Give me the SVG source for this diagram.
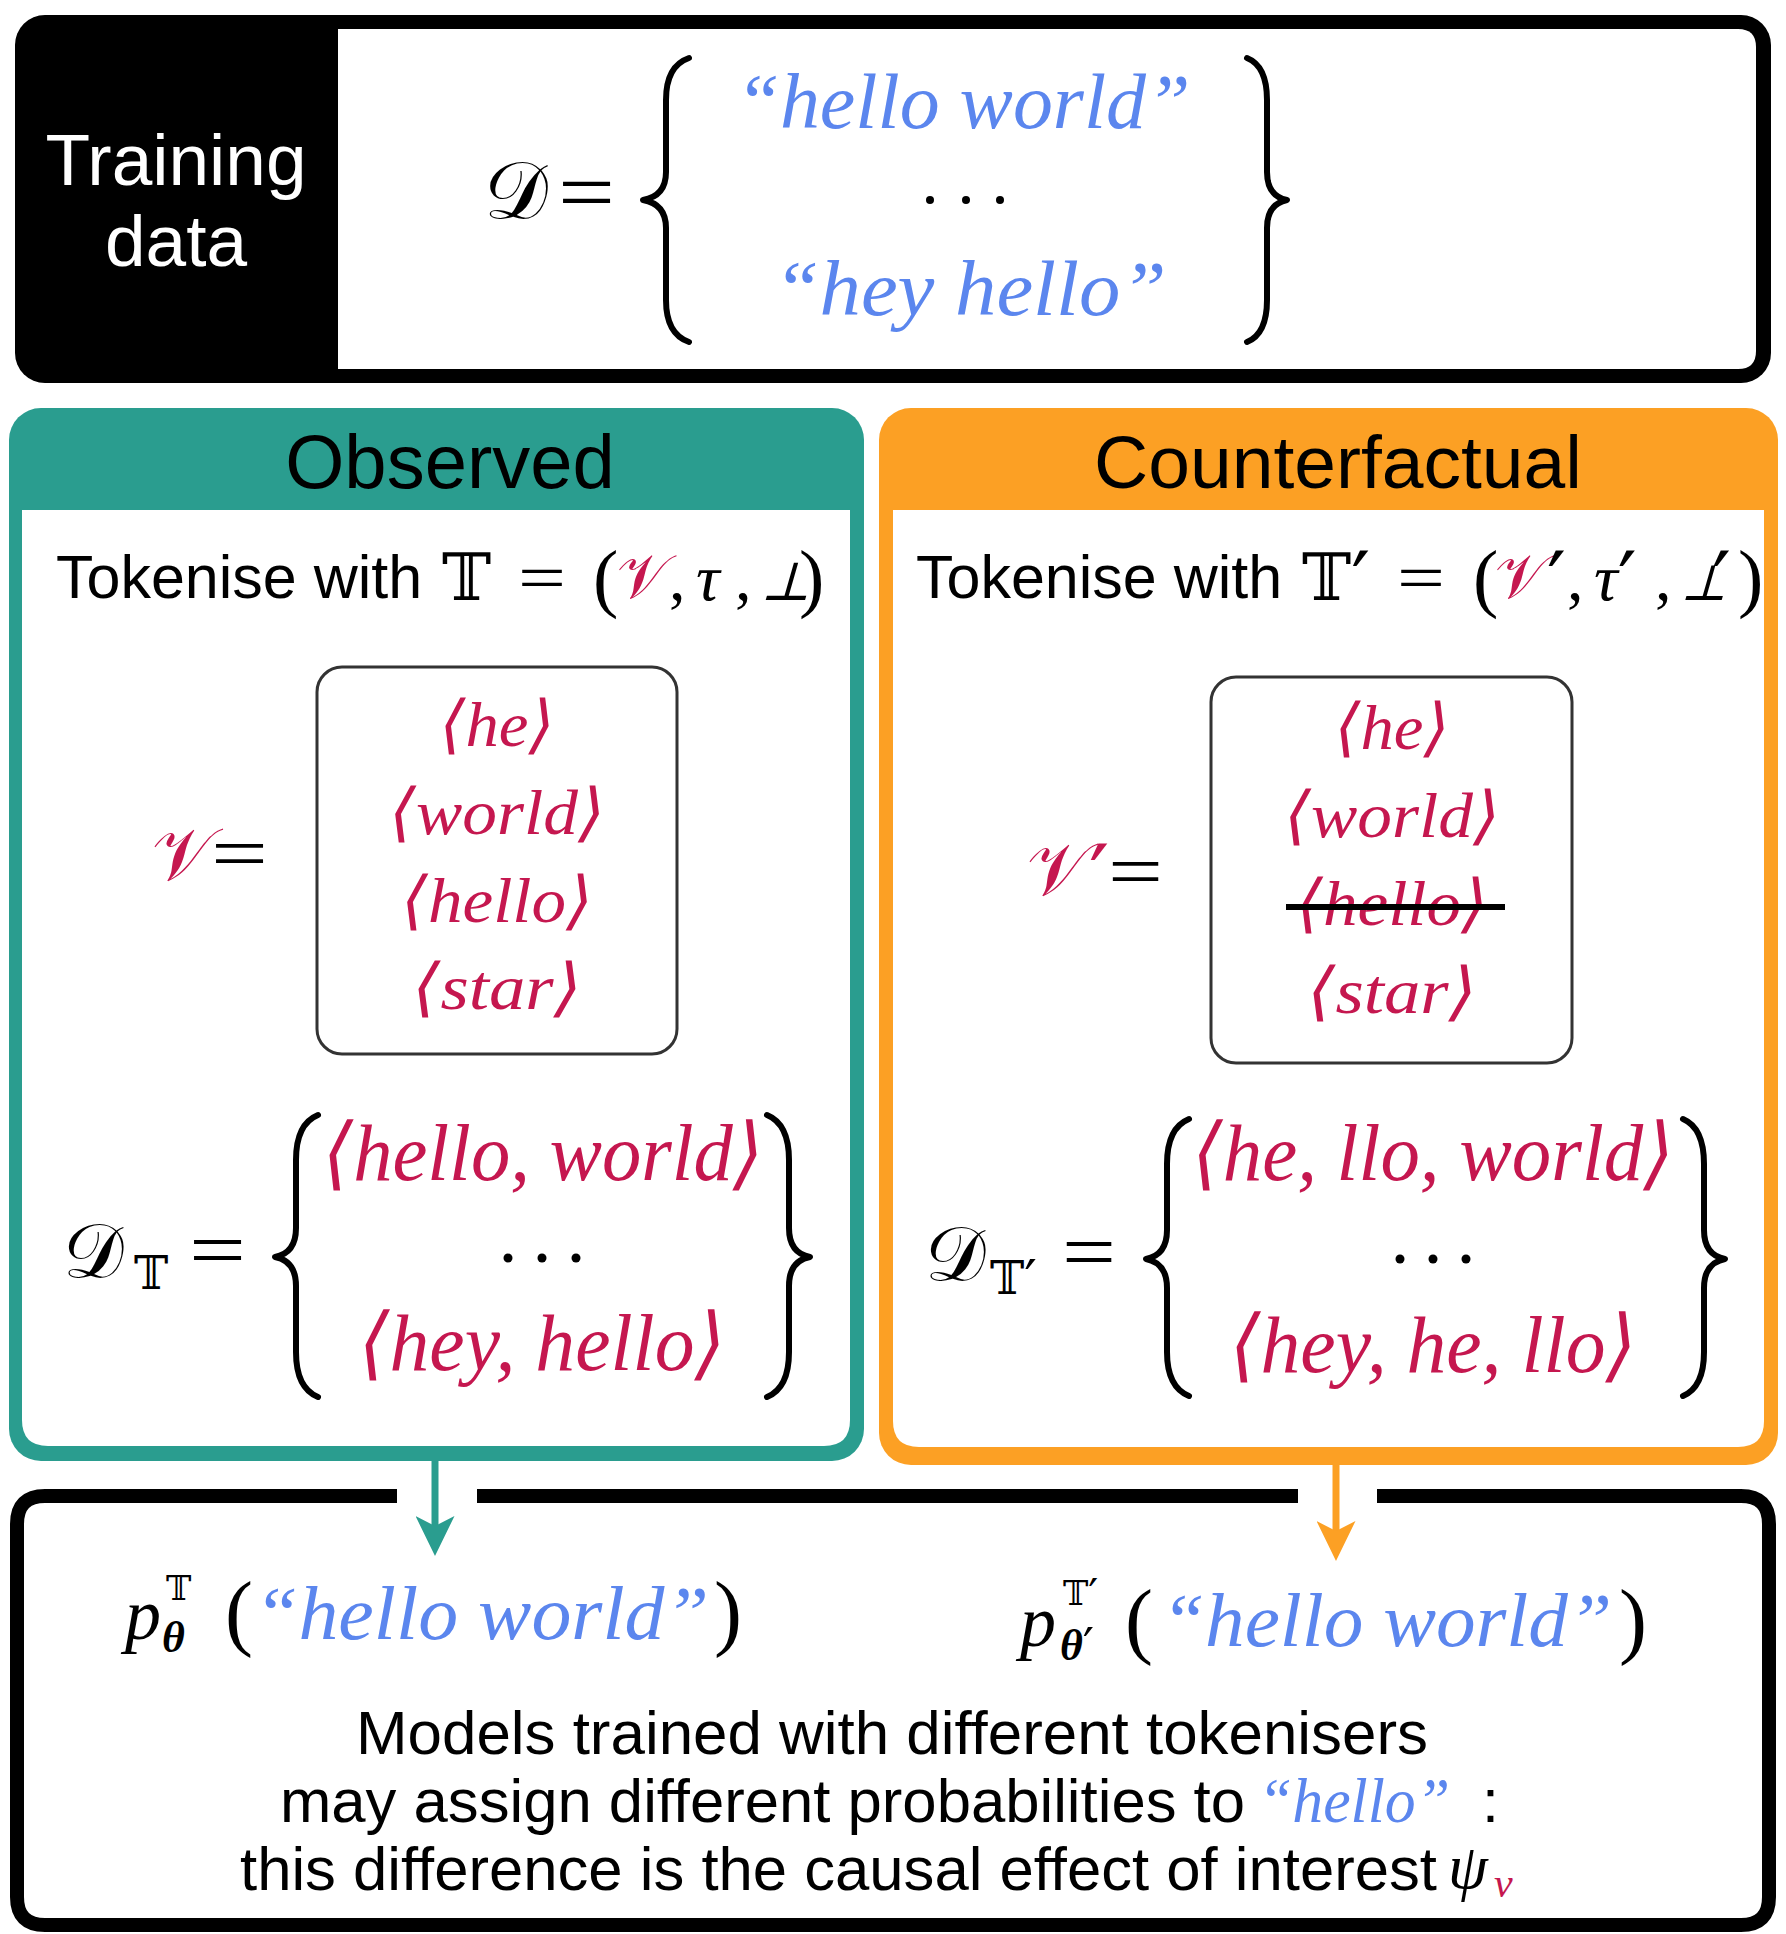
<svg xmlns="http://www.w3.org/2000/svg" width="1786" height="1934" viewBox="0 0 1786 1934">
<defs>
<style>
.sans{font-family:"Liberation Sans",Arial,sans-serif;}
.mi{font-family:"Liberation Serif","DejaVu Serif",serif;font-style:italic;}
.rm{font-family:"Liberation Serif","DejaVu Serif",serif;}
.sym{font-family:"DejaVu Serif","DejaVu Sans",serif;}
.blue{fill:#5b86ee;}
.red{fill:#c5174f;}
.brace{fill:none;stroke:#000;stroke-width:6;stroke-linecap:round;stroke-linejoin:round;}
.vbox{fill:#fff;stroke:#333;stroke-width:3;}
</style>
<marker id="ahTeal" markerUnits="userSpaceOnUse" viewBox="0 0 40 39" markerWidth="40" markerHeight="39" refX="10" refY="19.5" orient="auto"><path d="M0,0 L40,19.5 L0,39 L10,19.5 z" fill="#2a9d8f"/></marker>
<marker id="ahOrange" markerUnits="userSpaceOnUse" viewBox="0 0 40 39" markerWidth="40" markerHeight="39" refX="10" refY="19.5" orient="auto"><path d="M0,0 L40,19.5 L0,39 L10,19.5 z" fill="#fca024"/></marker>
</defs>
<rect width="1786" height="1934" fill="#fff"/>

<g id="training-data">
<rect x="15" y="15" width="1756" height="368" rx="30" fill="#000"/>
<path d="M338,29 H1738 Q1756,29 1756,47 V351 Q1756,369 1738,369 H338 Z" fill="#fff"/>
<text class="sans" x="176" y="185" font-size="73" fill="#fff" text-anchor="middle">Training</text>
<text class="sans" x="176" y="266" font-size="73" fill="#fff" text-anchor="middle">data</text>
<text class="sym" x="484" y="218" font-size="80">𝒟</text>
<text class="rm" x="558" y="221" font-size="84" textLength="57" lengthAdjust="spacingAndGlyphs">=</text>
<path class="brace" d="M689,58 Q666,66 666,100 L666,172 Q666,196 643,200 Q666,204 666,228 L666,300 Q666,334 689,342"/>
<path class="brace" d="M1247,58 Q1267,66 1267,100 L1267,172 Q1267,196 1287,200 Q1267,204 1267,228 L1267,300 Q1267,334 1247,342"/>
<text class="mi blue" x="963" y="128" font-size="78" text-anchor="middle" textLength="455" lengthAdjust="spacingAndGlyphs">“hello world”</text>
<circle cx="930" cy="200" r="4"/><circle cx="966" cy="200" r="4"/><circle cx="1000" cy="200" r="4"/>
<text class="mi blue" x="970" y="315" font-size="78" text-anchor="middle" textLength="393" lengthAdjust="spacingAndGlyphs">“hey hello”</text>
</g>

<g id="observed">
<rect x="9" y="408" width="855" height="1053" rx="32" fill="#2a9d8f"/>
<path d="M22,510 H850 V1420 Q850,1446 824,1446 H48 Q22,1446 22,1420 Z" fill="#fff"/>
<text class="sans" x="450" y="488" font-size="76" text-anchor="middle">Observed</text>
<text class="sans" x="56" y="598" font-size="61">Tokenise with</text>
<text class="sym" x="442" y="600" font-size="66">𝕋</text>
<text class="rm" x="518" y="600" font-size="66" textLength="48" lengthAdjust="spacingAndGlyphs">=</text>
<text class="rm" x="593" y="603" font-size="76">(</text>
<text class="sym red" x="617" y="598" font-size="62">𝒱</text>
<text class="rm" x="669" y="600" font-size="66">,</text>
<text class="mi" x="696" y="600" font-size="66">τ</text>
<text class="rm" x="735" y="600" font-size="66">,</text>
<text class="sym" font-size="54" transform="translate(760,600) skewX(-16)">⊥</text>
<text class="rm" x="799" y="603" font-size="76">)</text>
<text class="sym red" x="152" y="880" font-size="74">𝒱</text>
<text class="rm" x="211" y="879" font-size="76" textLength="57" lengthAdjust="spacingAndGlyphs">=</text>
<rect class="vbox" x="317" y="667" width="360" height="387" rx="25"/>
<text class="mi red" x="497" y="746" font-size="64" text-anchor="middle" textLength="115" lengthAdjust="spacingAndGlyphs">⟨he⟩</text>
<text class="mi red" x="497" y="834" font-size="64" text-anchor="middle" textLength="216" lengthAdjust="spacingAndGlyphs">⟨world⟩</text>
<text class="mi red" x="497" y="922" font-size="64" text-anchor="middle" textLength="192" lengthAdjust="spacingAndGlyphs">⟨hello⟩</text>
<text class="mi red" x="497" y="1009" font-size="64" text-anchor="middle" textLength="170" lengthAdjust="spacingAndGlyphs">⟨star⟩</text>
<text class="sym" x="63" y="1277" font-size="76">𝒟</text>
<text class="sym" x="134" y="1289" font-size="46">𝕋</text>
<text class="rm" x="189" y="1277" font-size="80" textLength="57" lengthAdjust="spacingAndGlyphs">=</text>
<path class="brace" d="M318,1115 Q296,1124 296,1160 L296,1228 Q296,1253 275,1257 Q296,1261 296,1286 L296,1352 Q296,1388 318,1397"/>
<path class="brace" d="M767,1115 Q789,1124 789,1160 L789,1228 Q789,1253 810,1257 Q789,1261 789,1286 L789,1352 Q789,1388 767,1397"/>
<text class="mi red" x="543" y="1180" font-size="80" text-anchor="middle" textLength="441" lengthAdjust="spacingAndGlyphs">⟨hello, world⟩</text>
<circle cx="508" cy="1258" r="4.5"/><circle cx="542" cy="1258" r="4.5"/><circle cx="576" cy="1258" r="4.5"/>
<text class="mi red" x="542" y="1370" font-size="80" text-anchor="middle" textLength="367" lengthAdjust="spacingAndGlyphs">⟨hey, hello⟩</text>
</g>

<g id="counterfactual">
<rect x="879" y="408" width="899" height="1057" rx="32" fill="#fca024"/>
<path d="M893,510 H1764 V1421 Q1764,1447 1738,1447 H919 Q893,1447 893,1421 Z" fill="#fff"/>
<text class="sans" x="1338" y="488" font-size="75" text-anchor="middle">Counterfactual</text>
<text class="sans" x="916" y="598" font-size="61">Tokenise with</text>
<text class="sym" x="1302" y="600" font-size="66">𝕋<tspan font-size="84" dy="12">′</tspan></text>
<text class="rm" x="1397" y="600" font-size="66" textLength="48" lengthAdjust="spacingAndGlyphs">=</text>
<text class="rm" x="1473" y="603" font-size="76">(</text>
<text class="sym red" x="1495" y="598" font-size="62">𝒱<tspan fill="#000" font-size="84" dy="14">′</tspan></text>
<text class="rm" x="1567" y="600" font-size="66">,</text>
<text class="mi" x="1594" y="600" font-size="66">τ<tspan class="sym" font-style="normal" font-size="84" dy="12">′</tspan></text>
<text class="rm" x="1655" y="600" font-size="66">,</text>
<text class="sym" font-size="50" transform="translate(1680,600) skewX(-16)">⊥</text>
<text class="sym" x="1712" y="612" font-size="84">′</text>
<text class="rm" x="1738" y="603" font-size="76">)</text>
<text class="sym red" x="1027" y="895" font-size="74">𝒱<tspan font-size="90" dy="14">′</tspan></text>
<text class="rm" x="1108" y="897" font-size="76" textLength="55" lengthAdjust="spacingAndGlyphs">=</text>
<rect class="vbox" x="1211" y="677" width="361" height="386" rx="25"/>
<text class="mi red" x="1392" y="749" font-size="64" text-anchor="middle" textLength="115" lengthAdjust="spacingAndGlyphs">⟨he⟩</text>
<text class="mi red" x="1392" y="837" font-size="64" text-anchor="middle" textLength="216" lengthAdjust="spacingAndGlyphs">⟨world⟩</text>
<text class="mi red" x="1392" y="925" font-size="64" text-anchor="middle" textLength="192" lengthAdjust="spacingAndGlyphs">⟨hello⟩</text>
<line x1="1286" y1="907" x2="1505" y2="907" stroke="#000" stroke-width="6"/>
<text class="mi red" x="1392" y="1013" font-size="64" text-anchor="middle" textLength="170" lengthAdjust="spacingAndGlyphs">⟨star⟩</text>
<text class="sym" x="925" y="1280" font-size="76">𝒟</text>
<text class="sym" x="990" y="1294" font-size="46">𝕋<tspan font-size="56" dy="6">′</tspan></text>
<text class="rm" x="1062" y="1279" font-size="80" textLength="54" lengthAdjust="spacingAndGlyphs">=</text>
<path class="brace" d="M1189,1119 Q1167,1128 1167,1164 L1167,1230 Q1167,1255 1146,1259 Q1167,1263 1167,1288 L1167,1352 Q1167,1387 1189,1396"/>
<path class="brace" d="M1683,1119 Q1704,1128 1704,1164 L1704,1230 Q1704,1255 1725,1259 Q1704,1263 1704,1288 L1704,1352 Q1704,1387 1683,1396"/>
<text class="mi red" x="1433" y="1180" font-size="80" text-anchor="middle" textLength="482" lengthAdjust="spacingAndGlyphs">⟨he, llo, world⟩</text>
<circle cx="1400" cy="1259" r="4.5"/><circle cx="1433" cy="1259" r="4.5"/><circle cx="1466" cy="1259" r="4.5"/>
<text class="mi red" x="1433" y="1372" font-size="80" text-anchor="middle" textLength="407" lengthAdjust="spacingAndGlyphs">⟨hey, he, llo⟩</text>
</g>

<g id="outcome">
<path d="M477,1496 H1298" fill="none" stroke="#000" stroke-width="14"/>
<path d="M1377,1496 H1741 Q1769,1496 1769,1524 V1897 Q1769,1925 1741,1925 H45 Q17,1925 17,1897 V1524 Q17,1496 45,1496 H397" fill="none" stroke="#000" stroke-width="14"/>
<text class="mi" x="125" y="1639" font-size="72">p</text>
<text class="mi" x="162" y="1652" font-size="44" font-weight="bold">θ</text>
<text class="sym" x="166" y="1600" font-size="34">𝕋</text>
<text class="rm" x="225" y="1640" font-size="84">(</text>
<text class="mi blue" x="254" y="1639" font-size="76" textLength="455" lengthAdjust="spacingAndGlyphs">“hello world”</text>
<text class="rm" x="714" y="1640" font-size="84">)</text>
<text class="mi" x="1020" y="1646" font-size="72">p</text>
<text class="mi" x="1060" y="1660" font-size="44" font-weight="bold">θ<tspan class="sym" font-style="normal" font-weight="normal" font-size="50" dy="4">′</tspan></text>
<text class="sym" x="1063" y="1605" font-size="34">𝕋<tspan font-size="44" dy="6">′</tspan></text>
<text class="rm" x="1125" y="1648" font-size="84">(</text>
<text class="mi blue" x="1161" y="1646" font-size="76" textLength="451" lengthAdjust="spacingAndGlyphs">“hello world”</text>
<text class="rm" x="1619" y="1648" font-size="84">)</text>
<text class="sans" x="356" y="1754" font-size="61" textLength="1072" lengthAdjust="spacingAndGlyphs">Models trained with different tokenisers</text>
<text class="sans" x="280" y="1822" font-size="61" textLength="965" lengthAdjust="spacingAndGlyphs">may assign different probabilities to</text>
<text class="mi blue" x="1258" y="1822" font-size="64" textLength="192" lengthAdjust="spacingAndGlyphs">“hello”</text>
<text class="sans" x="1482" y="1822" font-size="61">:</text>
<text class="sans" x="240" y="1890" font-size="61" textLength="1197" lengthAdjust="spacingAndGlyphs">this difference is the causal effect of interest</text>
<text class="mi" x="1448" y="1888" font-size="64">ψ</text>
<text class="mi red" x="1494" y="1897" font-size="42">v</text>
</g>

<g id="connectors">
<line x1="435" y1="1461" x2="435" y2="1526" stroke="#2a9d8f" stroke-width="7" marker-end="url(#ahTeal)"/>
<line x1="1336" y1="1465" x2="1336" y2="1531" stroke="#fca024" stroke-width="7" marker-end="url(#ahOrange)"/>
</g>
</svg>
